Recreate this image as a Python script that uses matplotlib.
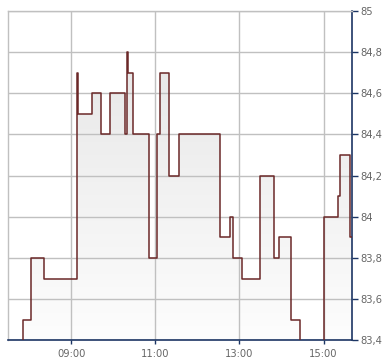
import matplotlib
matplotlib.use('Agg')
import matplotlib.pyplot as plt
import numpy as np
from matplotlib.colors import LinearSegmentedColormap

# intraday price steps (time of change, new price)
times = ['07:50', '07:51', '08:03', '08:21', '09:09', '09:10', '09:30', '09:43',
         '09:56', '10:17', '10:19', '10:21', '10:28', '10:51', '11:03', '11:07',
         '11:20', '11:34', '12:33', '12:46', '12:51', '13:03', '13:30', '13:50',
         '13:56', '14:14', '14:27', '15:01', '15:21', '15:23', '15:38', '15:41']
prices = [83.3, 83.5, 83.8, 83.7, 84.7, 84.5, 84.6, 84.4,
          84.6, 84.4, 84.8, 84.7, 84.4, 83.8, 84.4, 84.7,
          84.2, 84.4, 83.9, 84.0, 83.8, 83.7, 84.2, 83.8,
          83.9, 83.5, 83.3, 84.0, 84.1, 84.3, 83.9, 83.9]

x_ticks = ['09:00', '11:00', '13:00', '15:00']
y_ticks = [83.4, 83.6, 83.8, 84.0, 84.2, 84.4, 84.6, 84.8, 85.0]
x_range = ['07:30', '15:41']


def to_min(s):
    h, m = s.split(':')
    return int(h) * 60 + int(m)


t = np.array([to_min(s) for s in times])
p = np.array(prices)
xmin, xmax = to_min(x_range[0]), to_min(x_range[1])
ymin, ymax = y_ticks[0], y_ticks[-1]

fig = plt.figure(figsize=(3.9, 3.64), dpi=100)
ax = fig.add_axes([8 / 390, 23.7 / 364, 344.3 / 390, 329.3 / 364])

navy = '#1c3564'
grid_c = '#c0c0c0'

# gradient fill under the line (grid stays visible on top)
poly = ax.fill_between(t, p, ymin - 1, step='post', facecolor='none', edgecolor='none')
cmap = LinearSegmentedColormap.from_list('g', ['#fdfdfd', '#e4e4e4'])
grad = np.linspace(0, 1, 256).reshape(-1, 1)
img = ax.imshow(grad, extent=[xmin, xmax, ymin, ymax], aspect='auto', cmap=cmap,
                origin='lower', zorder=0.2, interpolation='bilinear')
img.set_clip_path(poly.get_paths()[0], transform=ax.transData)

ax.plot(t, p, drawstyle='steps-post', color='#6b2828', lw=1.1, zorder=3)

ax.set_xlim(xmin, xmax)
ax.set_ylim(ymin, ymax)

ax.set_xticks([to_min(s) for s in x_ticks])
ax.set_xticklabels(x_ticks)
ax.set_yticks(y_ticks)
ax.set_yticklabels([f'{v:g}'.replace('.', ',') for v in y_ticks])
ax.yaxis.tick_right()

ax.set_axisbelow(True)
ax.grid(True, color=grid_c, lw=1)

for side in ['left', 'top']:
    ax.spines[side].set_color(grid_c)
    ax.spines[side].set_linewidth(1)
for side in ['right', 'bottom']:
    ax.spines[side].set_color(navy)
    ax.spines[side].set_linewidth(1.2)

ax.tick_params(axis='y', direction='out', length=4, width=1, color=navy,
               labelcolor='#666666', labelsize=7.2, pad=1.5)
ax.tick_params(axis='x', direction='out', length=3, width=1, color=navy,
               labelcolor='#666666', labelsize=7.2, pad=3)

fig.savefig('out.png', dpi=100)
